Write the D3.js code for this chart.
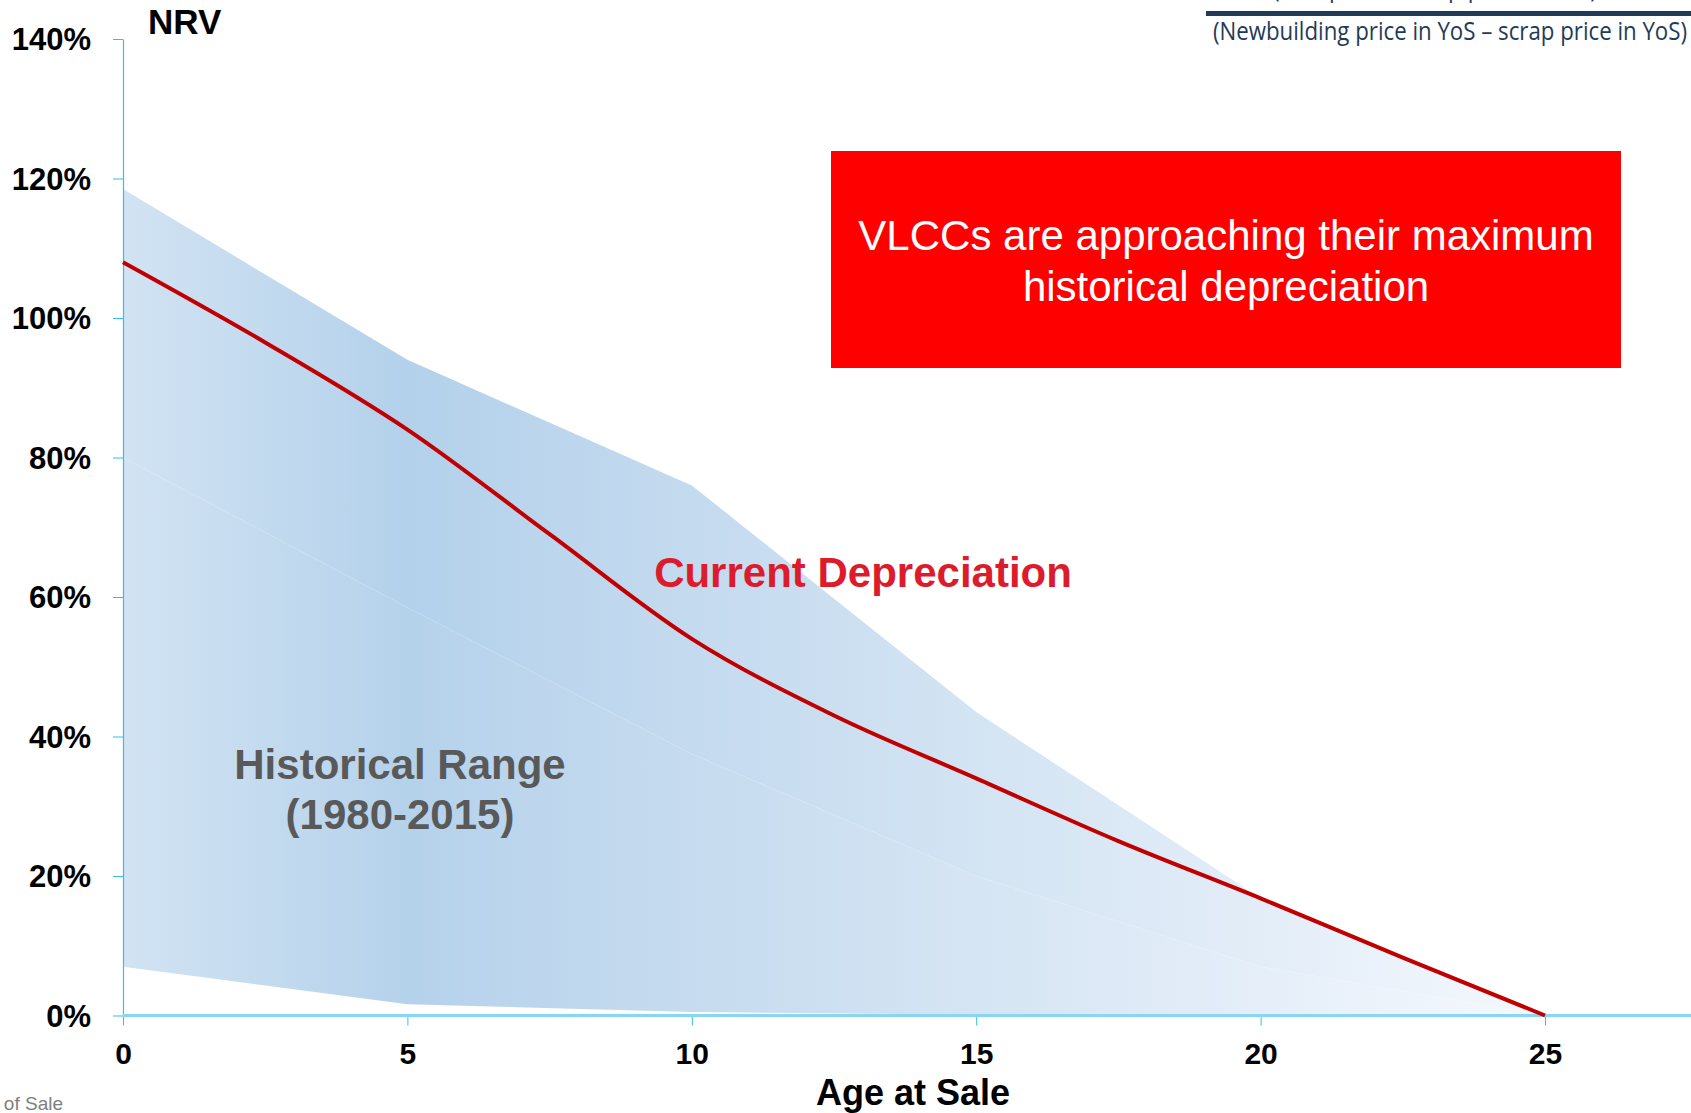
<!DOCTYPE html>
<html>
<head>
<meta charset="utf-8">
<script src="https://cdn.jsdelivr.net/npm/d3@7"></script>
<style>
  body { margin: 0; background: #fff; overflow: hidden; }
  svg { display: block; font-family: "Liberation Sans", Arial, sans-serif; }
</style>
</head>
<body>
<div id="chart-area"></div>
<script>
// ages at sale (years) and values in % of NRV
const ages = [0, 2.5, 5, 7.5, 10, 12.5, 15, 17.5, 20, 22.5, 25];
const currentDep = [108, 96.5, 84, 69, 54, 43, 34, 25, 16.8, 8.3, 0];

const rangeAges = [0, 5, 10, 15, 20, 25];
const rangeHigh = [118.5, 94, 76, 43.5, 16.8, 0];
const rangeMid = [80, 58.5, 37.5, 20, 7, 0];
const rangeLow = [7, 1.6, 0.5, 0.1, 0, 0];

const xTicks = [0, 5, 10, 15, 20, 25];
const yTicks = [0, 20, 40, 60, 80, 100, 120, 140];

const W = 1691, H = 1113;

let svg = d3.select("#chart-area").append("svg")
    .attr("width", W)
    .attr("height", H);

svg.append("rect").attr("width", W).attr("height", H).attr("fill", "#fff");

// scales
let x = d3.scaleLinear().domain([0, 25]).range([123, 1545]);
let y = d3.scaleLinear().domain([0, 140]).range([1015.5, 39]);

// gradients for the historical range
let defs = svg.append("defs");
function addGradient(id, stops) {
    let g = defs.append("linearGradient")
        .attr("id", id)
        .attr("gradientUnits", "userSpaceOnUse")
        .attr("x1", x(0)).attr("x2", x(25))
        .attr("y1", 0).attr("y2", 0);
    g.selectAll("stop").data(stops).enter().append("stop")
        .attr("offset", d => d[0])
        .attr("stop-color", d => d[1]);
}
addGradient("gradHigh", [[0, "#d2e3f3"], [0.2, "#b3d1eb"], [0.4, "#c4daef"], [0.6, "#d3e4f3"], [0.8, "#e3edf8"], [1, "#f4f8fd"]]);
addGradient("gradLow", [[0, "#d2e3f3"], [0.2, "#b5d2eb"], [0.4, "#c6dbef"], [0.6, "#d5e5f3"], [0.8, "#e5eef9"], [1, "#f5f9fd"]]);

let upperArea = d3.area()
    .x((d, i) => x(rangeAges[i]))
    .y0((d, i) => y(rangeMid[i]))
    .y1((d, i) => y(rangeHigh[i]));

let lowerArea = d3.area()
    .x((d, i) => x(rangeAges[i]))
    .y0((d, i) => y(rangeLow[i]))
    .y1((d, i) => y(rangeMid[i]));

svg.append("path")
    .datum(rangeAges)
    .attr("d", upperArea)
    .attr("fill", "url(#gradHigh)");

svg.append("path")
    .datum(rangeAges)
    .attr("d", lowerArea)
    .attr("fill", "url(#gradLow)");

// axes
let yAxis = d3.axisLeft(y)
    .tickValues(yTicks)
    .tickSize(10)
    .tickSizeOuter(0)
    .tickPadding(22)
    .tickFormat(d => d + "%");

let yG = svg.append("g")
    .attr("transform", "translate(" + x(0) + ",0)")
    .call(yAxis);
yG.select(".domain").attr("stroke", "#33bdf0").attr("stroke-width", 1.2);
yG.selectAll(".tick line").attr("stroke", "#33bdf0");
yG.selectAll(".tick text")
    .attr("fill", "#000")
    .style("font-size", "31px")
    .style("font-weight", "bold")
    .attr("dy", "0.35em");

let xAxis = d3.axisBottom(x)
    .tickValues(xTicks)
    .tickSize(10)
    .tickSizeOuter(0)
    .tickPadding(17);

let xG = svg.append("g")
    .attr("transform", "translate(0," + y(0) + ")")
    .call(xAxis);
xG.select(".domain").remove();
xG.selectAll(".tick line").attr("stroke", "#33bdf0");
xG.selectAll(".tick text")
    .attr("fill", "#000")
    .style("font-size", "30px")
    .style("font-weight", "bold");

svg.append("line")
    .attr("x1", x(0)).attr("x2", W)
    .attr("y1", y(0)).attr("y2", y(0))
    .attr("stroke", "#86d6f4")
    .attr("stroke-width", 3);

// current depreciation line
let line = d3.line()
    .x((d, i) => x(ages[i]))
    .y(d => y(d))
    .curve(d3.curveMonotoneX);

svg.append("path")
    .datum(currentDep)
    .attr("d", line)
    .attr("fill", "none")
    .attr("stroke", "#c00000")
    .attr("stroke-width", 4);

// labels
svg.append("text")
    .attr("x", 148).attr("y", 34)
    .style("font-size", "35px").style("font-weight", "bold")
    .attr("fill", "#000")
    .text("NRV");

svg.append("text")
    .attr("x", 913).attr("y", 1105)
    .attr("text-anchor", "middle")
    .style("font-size", "36px").style("font-weight", "bold")
    .attr("fill", "#000")
    .text("Age at Sale");

svg.append("text")
    .attr("x", 863).attr("y", 587)
    .attr("text-anchor", "middle")
    .style("font-size", "42px").style("font-weight", "bold")
    .attr("fill", "#dc1c2c")
    .text("Current Depreciation");

let hist = svg.append("text")
    .attr("text-anchor", "middle")
    .style("font-size", "42px").style("font-weight", "bold")
    .attr("fill", "#595959");
hist.append("tspan").attr("x", 400).attr("y", 779).text("Historical Range");
hist.append("tspan").attr("x", 400).attr("y", 829).text("(1980-2015)");

// red call-out box
svg.append("rect")
    .attr("x", 831).attr("y", 151)
    .attr("width", 790).attr("height", 217)
    .attr("fill", "#ff0000");

let box = svg.append("text")
    .attr("text-anchor", "middle")
    .style("font-size", "42px")
    .attr("fill", "#fff");
box.append("tspan").attr("x", 1226).attr("y", 250).text("VLCCs are approaching their maximum");
box.append("tspan").attr("x", 1226).attr("y", 301).text("historical depreciation");

// formula fragment at top right
svg.append("text")
    .attr("x", 1273).attr("y", -3)
    .style("font-size", "25px")
    .style("font-family", "'Open Sans', sans-serif")
    .attr("fill", "#1f3b57")
    .attr("textLength", 324).attr("lengthAdjust", "spacingAndGlyphs")
    .text("(Sale price \u2013 scrap price in YoS)");

svg.append("line")
    .attr("x1", 1206).attr("x2", W)
    .attr("y1", 13.5).attr("y2", 13.5)
    .attr("stroke", "#1f3b57")
    .attr("stroke-width", 5);

svg.append("text")
    .attr("x", 1213).attr("y", 40)
    .style("font-size", "25px")
    .style("font-family", "'Open Sans', sans-serif")
    .attr("fill", "#1f3b57")
    .attr("textLength", 474).attr("lengthAdjust", "spacingAndGlyphs")
    .text("(Newbuilding price in YoS \u2013 scrap price in YoS)");

// footnote cut at left edge
svg.append("text")
    .attr("x", 63).attr("y", 1110)
    .attr("text-anchor", "end")
    .style("font-size", "19px")
    .attr("fill", "#7f7f7f")
    .text("YoS = Year of Sale");
</script>
</body>
</html>
